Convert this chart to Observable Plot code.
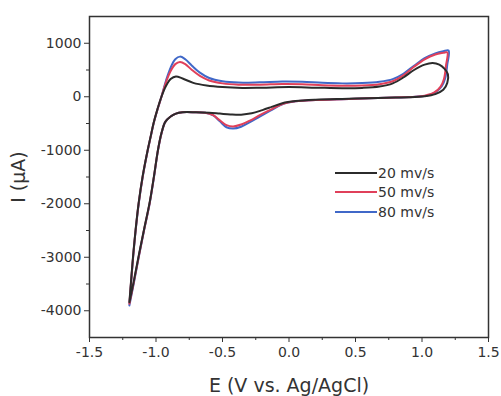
<!DOCTYPE html>
<html><head><meta charset="utf-8">
<script src="https://cdn.jsdelivr.net/npm/d3@7"></script>
<script src="https://cdn.jsdelivr.net/npm/@observablehq/plot@0.6"></script>
<style>
body{margin:0;background:#fff;}
#wrap{position:relative;width:501px;height:396px;}
#wrap svg [aria-label="x-axis label"], #wrap svg [aria-label="y-axis label"]{font-size:19px;}
.legend{position:absolute;left:335px;top:163px;font-family:"DejaVu Sans";font-size:14px;color:#333;}
.legend .row{display:flex;align-items:center;height:19.5px;}
.legend .sw{display:inline-block;width:42px;height:2px;margin-right:1px;}
</style></head><body><div id="wrap"></div>
<script>
const series = ["20 mv/s", "50 mv/s", "80 mv/s"];
const colors = ["#2b2b2b", "#e0405a", "#4068c8"];

const e80 = [-1.200,-1.188,-1.172,-1.153,-1.130,-1.100,-1.062,-1.040,-1.018,-0.990,-0.959,-0.925,-0.890,-0.855,-0.820,-0.780,-0.730,-0.670,-0.600,-0.500,-0.380,-0.220,-0.050,0.100,0.250,0.400,0.550,0.680,0.780,0.860,0.940,1.020,1.100,1.160,1.200,
  1.190,1.175,1.150,1.100,1.030,0.950,0.800,0.600,0.400,0.200,0.050,-0.050,-0.140,-0.220,-0.290,-0.360,-0.420,-0.470,-0.520,-0.570,-0.630,-0.720,-0.800,-0.850,-0.890,-0.930,-0.958,-0.985,-1.015,-1.048,-1.090,-1.130,-1.168,-1.200];
const i80 = [-3900,-3500,-3000,-2500,-2000,-1500,-1000,-750,-500,-250,0,300,545,700,750,700,580,450,350,290,265,270,285,280,260,250,255,280,330,430,580,720,810,850,865,
  600,350,200,80,20,0,-15,-30,-45,-60,-85,-140,-260,-370,-470,-560,-595,-570,-460,-350,-300,-290,-290,-315,-370,-470,-680,-1000,-1500,-2000,-2500,-3000,-3500,-3900];

const e50 = [-1.200,-1.188,-1.172,-1.153,-1.130,-1.100,-1.062,-1.040,-1.018,-0.990,-0.959,-0.925,-0.890,-0.855,-0.820,-0.780,-0.730,-0.670,-0.600,-0.500,-0.380,-0.220,-0.050,0.100,0.250,0.400,0.550,0.680,0.780,0.860,0.940,1.020,1.100,1.160,1.190,
  1.180,1.165,1.140,1.090,1.020,0.950,0.800,0.600,0.400,0.200,0.050,-0.050,-0.140,-0.220,-0.290,-0.360,-0.420,-0.470,-0.520,-0.570,-0.630,-0.720,-0.800,-0.850,-0.890,-0.930,-0.958,-0.985,-1.015,-1.048,-1.090,-1.130,-1.168,-1.200];
const i50 = [-3870,-3480,-2990,-2490,-1990,-1490,-995,-745,-495,-245,0,270,480,610,650,610,500,390,305,250,225,225,240,235,215,205,210,235,290,400,560,700,790,820,830,
  580,330,190,75,20,0,-15,-30,-45,-60,-85,-135,-245,-345,-440,-520,-555,-530,-440,-345,-300,-290,-290,-315,-370,-470,-675,-995,-1490,-1990,-2490,-2990,-3480,-3870];

const e20 = [-1.200,-1.188,-1.172,-1.153,-1.130,-1.100,-1.062,-1.040,-1.018,-0.990,-0.959,-0.925,-0.890,-0.850,-0.800,-0.720,-0.620,-0.500,-0.350,-0.200,0.000,0.200,0.400,0.550,0.680,0.780,0.860,0.940,1.020,1.080,1.130,1.170,1.195,
  1.190,1.160,1.100,1.020,0.900,0.800,0.600,0.400,0.200,0.050,-0.050,-0.130,-0.200,-0.280,-0.360,-0.440,-0.520,-0.600,-0.700,-0.800,-0.850,-0.890,-0.930,-0.958,-0.985,-1.015,-1.048,-1.090,-1.130,-1.168,-1.200];
const i20 = [-3840,-3460,-2970,-2480,-1980,-1480,-990,-740,-490,-240,0,200,330,380,340,260,210,180,165,170,180,170,160,165,190,250,360,500,600,630,600,520,420,
  260,130,50,10,-10,-15,-30,-40,-55,-80,-120,-190,-250,-310,-335,-330,-315,-300,-290,-290,-315,-370,-470,-670,-990,-1480,-1980,-2480,-2970,-3460,-3840];

const xTicks = [-1.5, -1.0, -0.5, 0.0, 0.5, 1.0, 1.5];
const xMinor = [-1.25, -0.75, -0.25, 0.25, 0.75, 1.25];
const yTicks = [-4000, -3000, -2000, -1000, 0, 1000];
const yMinor = [-3500, -2500, -1500, -500, 500];

const rows = [];
[[e20, i20], [e50, i50], [e80, i80]].forEach(([E, I], k) => {
  E.forEach((e, j) => rows.push({series: series[k], E: e, I: I[j]}));
});
// draw 80 first, 20 last
rows.sort((a, b) => series.indexOf(b.series) - series.indexOf(a.series));

const chart = Plot.plot({
  width: 501, height: 396,
  marginLeft: 89, marginRight: 13, marginTop: 16, marginBottom: 59,
  style: {fontFamily: "DejaVu Sans", fontSize: "14px", color: "#333", background: "#fff"},
  x: {domain: [-1.5, 1.5]},
  y: {domain: [-4500, 1500]},
  color: {domain: series, range: colors},
  marks: [
    Plot.line(rows, {x: "E", y: "I", z: "series", stroke: "series", strokeWidth: 2, curve: "catmull-rom"}),
    Plot.frame({stroke: "#333", strokeWidth: 1.5}),
    Plot.axisX({ticks: xTicks, tickSize: 5, tickPadding: 5, tickFormat: d => d.toFixed(1),
      label: "E (V vs. Ag/AgCl)", labelAnchor: "center", labelArrow: "none", labelOffset: 54}),
    Plot.axisX({ticks: xMinor, tickSize: 3, tickFormat: () => "", label: null}),
    Plot.axisY({ticks: yTicks, tickSize: 5, tickPadding: 3, tickFormat: d => String(d),
      label: "I (\u03bcA)", labelAnchor: "center", labelArrow: "none", labelOffset: 78}),
    Plot.axisY({ticks: yMinor, tickSize: 3, tickFormat: () => "", label: null})
  ]
});
const wrap = document.getElementById("wrap");
wrap.appendChild(chart);
const leg = document.createElement("div");
leg.className = "legend";
series.forEach((s, k) => {
  const r = document.createElement("div");
  r.className = "row";
  const sw = document.createElement("span");
  sw.className = "sw";
  sw.style.background = colors[k];
  const t = document.createElement("span");
  t.textContent = s;
  r.appendChild(sw); r.appendChild(t);
  leg.appendChild(r);
});
wrap.appendChild(leg);
</script></body></html>
